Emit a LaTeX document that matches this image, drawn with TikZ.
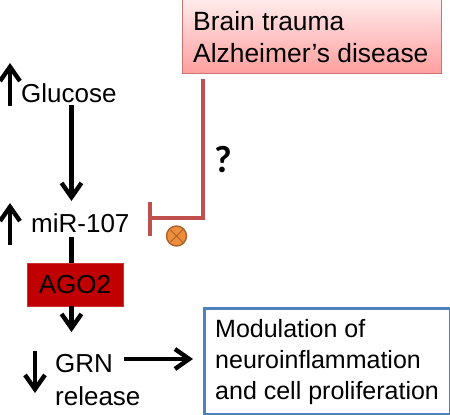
\documentclass[tikz,border=0pt]{standalone}
\usepackage{fontspec}
\setmainfont{Liberation Sans}
\newfontfamily\markfont{Carlito}
\usetikzlibrary{arrows.meta}
\definecolor{inhibred}{HTML}{C0504D}
\definecolor{agored}{HTML}{C00000}
\definecolor{boxblue}{HTML}{4F81BD}
\definecolor{drugorange}{HTML}{EE8E3C}
\tikzset{
 label/.style={inner sep=0,font=\fontsize{26}{30}\selectfont,anchor=west},
 flow/.style={line width=4.4pt,-{Straight Barb[length=5mm,width=7mm,line width=4.4pt]}},
 link/.style={line width=4.4pt},
 inhib/.style={line width=4.4pt,draw=inhibred},
 disease/.style={draw=inhibred!80,line width=.8pt,top color=red!8,bottom color=red!38,minimum width=259pt,minimum height=74pt,inner sep=0,anchor=north west},
 agobox/.style={fill=agored,draw=agored!80!white,minimum width=96pt,minimum height=43pt,inner sep=0,font=\fontsize{26}{30}\selectfont},
 outcome/.style={draw=boxblue,line width=2.6pt,fill=white,minimum width=246pt,minimum height=106pt,inner sep=0,anchor=north west},
 blocker/.style={circle,draw=drugorange!70!black,line width=1.4pt,fill=drugorange,minimum size=20pt,inner sep=0,
  path picture={\draw[drugorange!70!black,line width=1pt] (path picture bounding box.south west)++(4,-4) -- (path picture bounding box.north east)++(-4,4)
   (path picture bounding box.north west)++(4,4) -- (path picture bounding box.south east)++(-4,-4);}}
}
\begin{document}
\begin{tikzpicture}[x=1pt,y=-1pt]
\path[use as bounding box] (0,0) rectangle (450,415);
% top box
\node[disease] (trauma) at (182,-1) {};
\node[label,align=left,font=\fontsize{26.4}{32}\selectfont] (traumatext) at (193,37) {Brain trauma\\Alzheimer’s disease};
% left column
\node[label] (glucose) at (21,93) {Glucose};
\node[label] (mir) at (31,223) {miR-107};
\node[agobox] (ago) at (75,284.5) {AGO2};
\node[label] (grn) at (55,364) {GRN};
\node[label] (release) at (55,396) {release};
\coordinate (glucoseend) at (71.5,105);
\coordinate (mirtop) at (71.5,201);
\coordinate (mirend) at (71.5,237);
\coordinate (agotop) at (71.5,263);
\coordinate (agoend) at (71.5,306);
\coordinate (grntop) at (71.5,332);
\draw[flow] (glucoseend) -- (mirtop);
\draw[link] (mirend) -- (agotop);
\draw[flow] (agoend) -- (grntop);
% up and down marks
\coordinate (upa) at (10,106);
\coordinate (upb) at (10,63);
\coordinate (upc) at (10,245);
\coordinate (upd) at (10,203);
\coordinate (downa) at (35,351);
\coordinate (downb) at (35,393);
\draw[flow] (upa) -- (upb);
\draw[flow] (upc) -- (upd);
\draw[flow] (downa) -- (downb);
% outcome box
\node[outcome] (modbox) at (203,307) {};
\node[label,align=left,font=\fontsize{25}{31}\selectfont] (modtext) at (215,362.5) {Modulation of\\neuroinflammation\\and cell proliferation};
\coordinate (grnout) at (124,359);
\coordinate (grnin) at (193,359);
\draw[flow] (grnout) -- (grnin);
% inhibition
\coordinate (inhtop) at (203,79);
\coordinate (inhcorner) at (203,218);
\coordinate (inhend) at (150,218);
\coordinate (barup) at (150,202);
\coordinate (bardown) at (150,236);
\draw[inhib,line join=miter] (inhtop) -- (inhcorner) -- (inhend);
\draw[inhib] (barup) -- (bardown);
\node[font=\markfont\bfseries\fontsize{38}{38}\selectfont,inner sep=0] (question) at (223,160) {?};
\node[blocker] (block) at (176.5,236) {};
\end{tikzpicture}
\end{document}
